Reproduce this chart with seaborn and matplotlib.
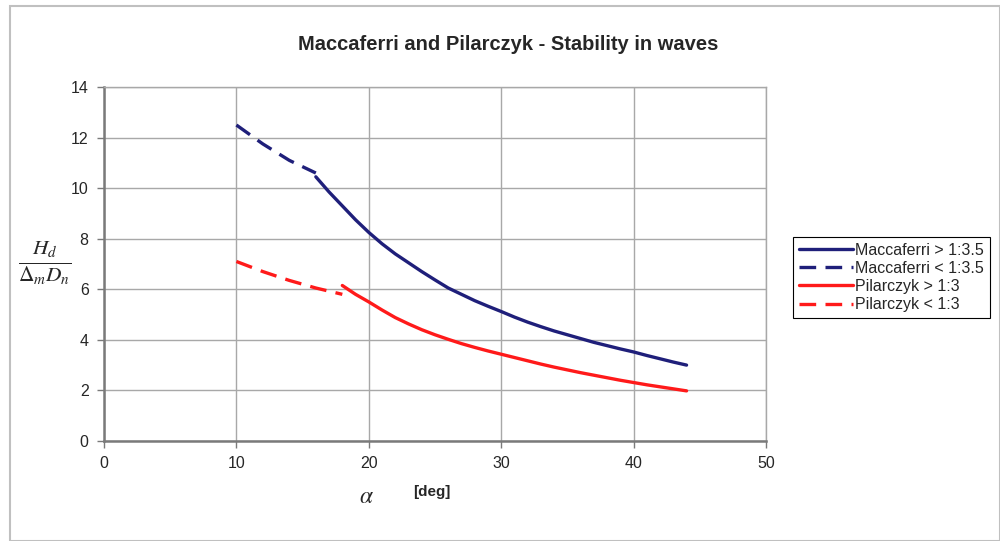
import numpy as np
import pandas as pd
import matplotlib
matplotlib.use('Agg')
import matplotlib.pyplot as plt
import seaborn as sns
from matplotlib.patches import Rectangle

## DATA
alpha_mac_steep = [10, 12, 14, 16]
hd_mac_steep = [12.5, 11.75, 11.1, 10.6]
alpha_mac = list(range(16, 45))
hd_mac = [10.45, 9.85, 9.3, 8.75, 8.25, 7.8, 7.4, 7.05, 6.7, 6.37, 6.05, 5.8, 5.55, 5.33, 5.12,
          4.9, 4.7, 4.52, 4.35, 4.2, 4.05, 3.9, 3.77, 3.64, 3.52, 3.38, 3.25, 3.12, 3.0]
alpha_pil_steep = [10, 12, 14, 16, 18]
hd_pil_steep = [7.1, 6.7, 6.35, 6.05, 5.8]
alpha_pil = list(range(18, 45))
hd_pil = [6.15, 5.8, 5.5, 5.18, 4.88, 4.63, 4.4, 4.2, 4.02, 3.85, 3.7, 3.56, 3.43, 3.3, 3.17,
          3.04, 2.92, 2.81, 2.7, 2.6, 2.5, 2.4, 2.31, 2.22, 2.14, 2.06, 1.98]

series_names = ['Maccaferri > 1:3.5', 'Maccaferri < 1:3.5', 'Pilarczyk > 1:3', 'Pilarczyk < 1:3']

df = pd.concat([
    pd.DataFrame({'alpha': alpha_mac, 'hd': hd_mac, 'series': series_names[0]}),
    pd.DataFrame({'alpha': alpha_mac_steep, 'hd': hd_mac_steep, 'series': series_names[1]}),
    pd.DataFrame({'alpha': alpha_pil, 'hd': hd_pil, 'series': series_names[2]}),
    pd.DataFrame({'alpha': alpha_pil_steep, 'hd': hd_pil_steep, 'series': series_names[3]}),
])

navy = '#1f1f7a'
red = '#ff1a1a'
palette = {series_names[0]: navy, series_names[1]: navy, series_names[2]: red, series_names[3]: red}
dashes = {series_names[0]: '', series_names[1]: (5, 2.8), series_names[2]: '', series_names[3]: (5, 2.8)}

sns.set_style('white')
plt.rcParams['font.family'] = ['Liberation Sans', 'DejaVu Sans']
plt.rcParams['mathtext.fontset'] = 'stix'

fig = plt.figure(figsize=(10, 5.41), dpi=100)
ax = fig.add_axes([0.104, 0.185, 0.662, 0.654])

sns.lineplot(data=df, x='alpha', y='hd', hue='series', style='series',
             hue_order=series_names, style_order=series_names,
             palette=palette, dashes=dashes, linewidth=2.4, ax=ax, sort=True)

ax.set_xlim(0, 50)
ax.set_ylim(0, 14)
ax.set_xticks(range(0, 51, 10))
ax.set_yticks(range(0, 15, 2))
ax.grid(True, color='#a8a8a8', linewidth=1.0)
for side in ['top', 'right']:
    ax.spines[side].set_color('#a8a8a8')
    ax.spines[side].set_linewidth(1.0)
for side in ['left', 'bottom']:
    ax.spines[side].set_color('#7a7a7a')
    ax.spines[side].set_linewidth(1.8)
ax.tick_params(axis='both', which='major', length=5, width=1, color='#7a7a7a',
               labelsize=11.5, direction='out', left=True, bottom=True, pad=6)

ax.set_xlabel('')
ax.set_ylabel('')
fig.text(0.045, 0.515, r'$\frac{H_d}{\Delta_m D_n}$', fontsize=22, ha='center', va='center')
fig.text(0.366, 0.082, r'$\alpha$', fontsize=17, ha='center', va='center')
fig.text(0.432, 0.09, '[deg]', fontsize=11, fontweight='bold', ha='center', va='center')

fig.text(0.508, 0.917, 'Maccaferri and Pilarczyk - Stability in waves', fontsize=14.5,
         fontweight='bold', ha='center', va='center')

leg = ax.legend(loc='upper left', bbox_to_anchor=(0.793, 1 - 237 / 541), bbox_transform=fig.transFigure,
                fontsize=11.5, frameon=True, fancybox=False, edgecolor='black', framealpha=1,
                handlelength=3.4, handletextpad=0.15, labelspacing=0.2, borderpad=0.35,
                borderaxespad=0)
leg.get_frame().set_linewidth(0.8)

# outer chart border
fig.patches.append(Rectangle((0.010, 0.0), 0.99, 0.988, transform=fig.transFigure,
                             fill=False, edgecolor='#c0c0c0', linewidth=1.5))

fig.savefig('out.png', dpi=100)
